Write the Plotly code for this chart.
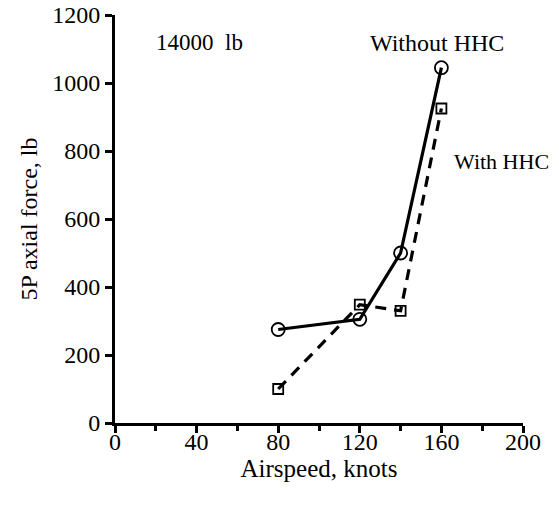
import plotly.graph_objects as go

airspeed = [80, 120, 140, 160]
without_hhc = [275, 305, 500, 1045]
with_hhc = [100, 348, 330, 925]

x_ticks = [0, 40, 80, 120, 160, 200]
y_ticks = [0, 200, 400, 600, 800, 1000, 1200]

FONT = "Liberation Serif, Times New Roman, serif"

fig = go.Figure()
fig.add_trace(go.Scatter(
    x=airspeed, y=with_hhc, mode="lines+markers", name="With HHC",
    line=dict(color="black", width=3.2, dash="11px,8px"),
    marker=dict(symbol="square-open", size=10, color="black", line=dict(width=1.8)),
))
fig.add_trace(go.Scatter(
    x=airspeed, y=without_hhc, mode="lines+markers", name="Without HHC",
    line=dict(color="black", width=3.2),
    marker=dict(symbol="circle-open", size=13, color="black", line=dict(width=1.8)),
))

fig.add_annotation(x=41.6, y=1118, text="14000  lb", showarrow=False,
                   font=dict(family=FONT, size=23, color="black"))
fig.add_annotation(x=158, y=1118, text="Without HHC", showarrow=False,
                   font=dict(family=FONT, size=24, color="black"))
fig.add_annotation(x=165, y=768, text="With HHC", showarrow=False, xanchor="left",
                   font=dict(family=FONT, size=22, color="black"))

fig.update_layout(
    width=559, height=506,
    margin=dict(l=115, r=36, t=15, b=83),
    paper_bgcolor="white", plot_bgcolor="white",
    showlegend=False,
    font=dict(family=FONT, size=24, color="black"),
    xaxis=dict(
        range=[0, 200], tickvals=x_ticks, ticktext=[str(v) for v in x_ticks],
        automargin=False,
        showgrid=False, zeroline=False, showline=True, linecolor="black", linewidth=3,
        ticks="outside", ticklen=7, tickwidth=2.5, tickcolor="black",
        minor=dict(tickvals=[20, 60, 100, 140, 180], ticks="outside", ticklen=5, tickwidth=2.5, tickcolor="black"),
        title=dict(text="Airspeed, knots", font=dict(family=FONT, size=25, color="black"), standoff=0),
        tickfont=dict(family=FONT, size=24, color="black"),
        ticklabeloverflow="allow",
        ticklabelstandoff=-12,
    ),
    yaxis=dict(
        range=[0, 1200], tickvals=y_ticks, ticktext=[str(v) for v in y_ticks],
        automargin=False,
        showgrid=False, zeroline=False, showline=True, linecolor="black", linewidth=3,
        ticks="outside", ticklen=7, tickwidth=2.5, tickcolor="black",
        title=dict(text="5P axial force, lb", font=dict(family=FONT, size=24, color="black"), standoff=8),
        tickfont=dict(family=FONT, size=24, color="black"),
        ticklabeloverflow="allow",
    ),
)

fig.write_html("out.html", config={"displayModeBar": False},
               post_script="document.body.style.margin='0';")
